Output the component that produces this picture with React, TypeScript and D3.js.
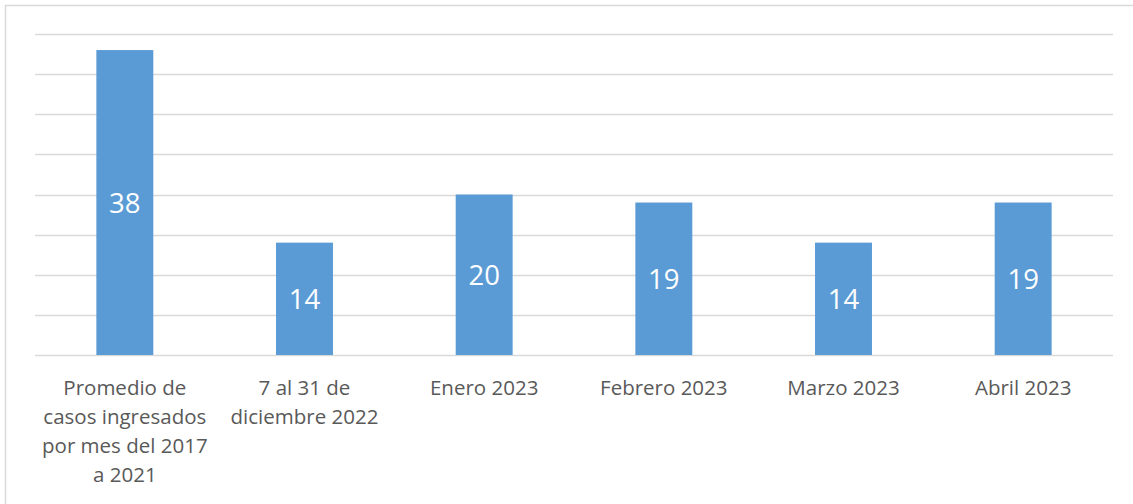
import React, { useEffect, useRef } from 'react';
import { select, scaleBand, scaleLinear, range } from 'd3';

// categories (line breaks as in the source chart)
const categories = [
  'Promedio de\ncasos ingresados\npor mes del 2017\na 2021',
  '7 al 31 de\ndiciembre 2022',
  'Enero 2023',
  'Febrero 2023',
  'Marzo 2023',
  'Abril 2023',
];
const casos = [38, 14, 20, 19, 14, 19];
const yTicks = range(0, 45, 5);

const App = () => {
  const svgRef = useRef<SVGSVGElement | null>(null);
  const width = 1133;
  const height = 504;
  const margin = { top: 34, right: 20, bottom: 149, left: 35 };

  useEffect(() => {
    const svg = select(svgRef.current);
    svg.selectAll('*').remove();

    const x = scaleBand<string>()
      .domain(categories)
      .range([margin.left, width - margin.right])
      .paddingInner(0.683)
      .paddingOuter(0.3415);

    const y = scaleLinear()
      .domain([0, 40])
      .range([height - margin.bottom, margin.top]);

    // outer frame
    svg.append('rect')
      .attr('x', 5.5)
      .attr('y', 5.5)
      .attr('width', width + 10)
      .attr('height', height + 10)
      .attr('fill', 'white')
      .attr('stroke', '#d9d9d9')
      .attr('stroke-width', 1.5);

    // gridlines
    svg.append('g')
      .selectAll('line')
      .data(yTicks)
      .join('line')
      .attr('x1', margin.left)
      .attr('x2', width - margin.right)
      .attr('y1', d => Math.round(y(d)) + 0.5)
      .attr('y2', d => Math.round(y(d)) + 0.5)
      .attr('stroke', '#d9d9d9')
      .attr('stroke-width', 1.3);

    // bars
    const bars = svg.append('g')
      .selectAll('g')
      .data(categories)
      .join('g');

    bars.append('rect')
      .attr('x', d => x(d)!)
      .attr('y', (d, i) => y(casos[i]))
      .attr('width', x.bandwidth())
      .attr('height', (d, i) => y(0) - y(casos[i]))
      .attr('fill', '#5b9bd5');

    bars.append('text')
      .attr('x', d => x(d)! + x.bandwidth() / 2)
      .attr('y', (d, i) => (y(casos[i]) + y(0)) / 2)
      .attr('dy', '0.38em')
      .attr('text-anchor', 'middle')
      .attr('fill', 'white')
      .style('font-family', '"Open Sans", sans-serif')
      .style('font-size', '27.5px')
      .text((d, i) => casos[i]);

    // category labels
    const labels = svg.append('g')
      .selectAll('text')
      .data(categories)
      .join('text')
      .attr('x', d => x(d)! + x.bandwidth() / 2)
      .attr('y', height - margin.bottom + 40)
      .attr('text-anchor', 'middle')
      .attr('fill', '#595959')
      .style('font-family', '"Open Sans", sans-serif')
      .style('font-size', '20.5px');

    labels.selectAll('tspan')
      .data(d => d.split('\n'))
      .join('tspan')
      .attr('x', function () {
        return select((this as SVGTSpanElement).parentNode as SVGTextElement).attr('x');
      })
      .attr('dy', (d, i) => (i === 0 ? 0 : 29))
      .text(d => d);
  }, []);

  return (
    <svg
      ref={svgRef}
      width={width}
      height={height}
      style={{ position: 'absolute', left: 0, top: 0 }}
    />
  );
};

export default App;
